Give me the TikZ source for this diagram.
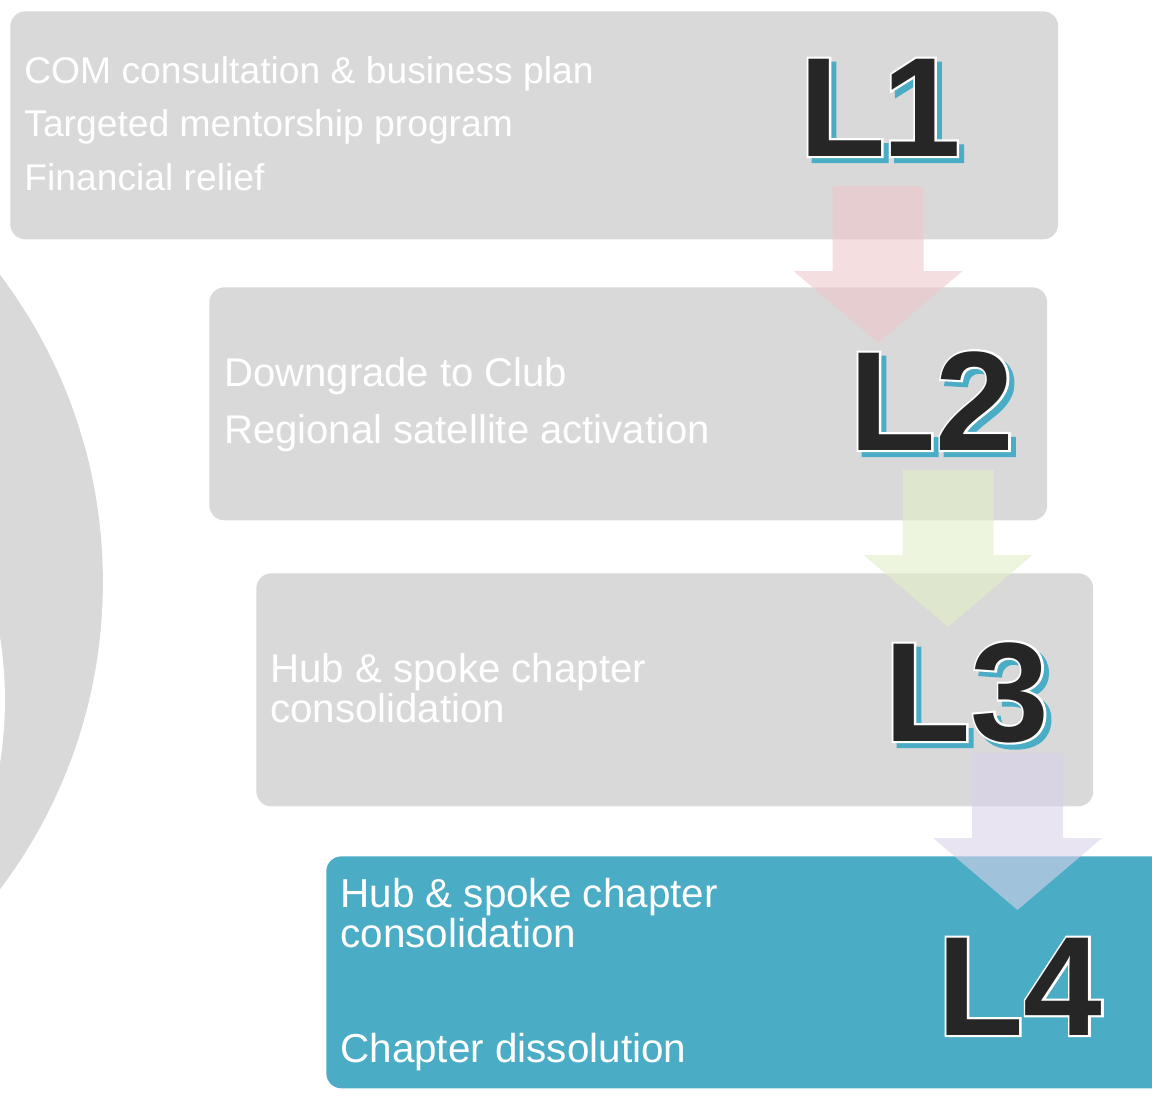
\documentclass[tikz,border=0pt]{standalone}
\usepackage{fontspec}
\setmainfont{Liberation Sans}
\newfontfamily\lvlfont{Liberation Sans Bold}
\newfontfamily\lvlrimfont{Liberation Sans Bold}[FakeBold=3]
\definecolor{boxgray}{HTML}{D9D9D9}
\definecolor{levelteal}{HTML}{4BACC6}
\definecolor{leveldark}{HTML}{262626}
\definecolor{arrowred}{RGB}{239,200,202}
\definecolor{arrowgreen}{RGB}{227,239,200}
\definecolor{arrowviolet}{RGB}{217,210,234}
\tikzset{
	levelbox/.style={fill=boxgray, rounded corners=0.3cm, inner sep=0pt, anchor=north west},
	itemtext/.style={text=white, align=left, inner sep=0pt, anchor=west},
	lvl/.style={font=\lvlfont\fontsize{80.5}{80.5}\selectfont, inner sep=0pt, anchor=base west, text=leveldark},
	lvlrim/.style={font=\lvlrimfont\fontsize{80.5}{80.5}\selectfont, inner sep=0pt, anchor=base west, text=white}
}
\newcommand{\levelarrow}[3]{%
	\fill[#3, opacity=0.6] (#1-45.5,#2) -- (#1+45.5,#2) -- (#1+45.5,#2+85) -- (#1+84.5,#2+85) -- (#1,#2+157) -- (#1-84.5,#2+85) -- (#1-45.5,#2+85) -- cycle;
}
\newcommand{\levellabel}[3]{%
	\node (#1s) [lvlrim, text=levelteal, shift={(5,5)}] at (#2) {#3};
	\node (#1r) [lvlrim] at (#2) {#3};
	\node (#1) [lvl] at (#2) {#3};
}
\begin{document}
\begin{tikzpicture}[x=0.02cm, y=-0.02cm]
	\useasboundingbox (0,0) rectangle (1152,1095);
	\fill[boxgray] (-407,582) circle (10.2cm);
	\fill[white] (-395,700) circle (8cm);
	\node (b1) [levelbox, minimum width=20.96cm, minimum height=4.56cm] at (10,11) {};
	\node (b2) [levelbox, minimum width=16.76cm, minimum height=4.66cm] at (209,287) {};
	\node (b3) [levelbox, minimum width=16.74cm, minimum height=4.66cm] at (256,573) {};
	\node (b4) [levelbox, fill=levelteal, minimum width=17cm, minimum height=4.64cm] at (326,856) {};
	\levelarrow{878}{186}{arrowred}
	\levelarrow{948}{470}{arrowgreen}
	\levelarrow{1017.5}{753}{arrowviolet}
	\node (t1) [itemtext, font=\fontsize{21.2}{30.3}\selectfont] at (24,123.5) {COM consultation \& business plan\\Targeted mentorship program\\Financial relief};
	\node (t2) [itemtext, font=\fontsize{22.8}{32.3}\selectfont] at (224,405) {Downgrade to Club\\Regional satellite activation};
	\node (t3) [itemtext, font=\fontsize{22.9}{23.2}\selectfont] at (270,688) {Hub \& spoke chapter\\consolidation};
	\node (t4) [itemtext, font=\fontsize{23}{23.2}\selectfont] at (340,913) {Hub \& spoke chapter\\consolidation};
	\node (t5) [itemtext, font=\fontsize{23}{23.2}\selectfont] at (340,1052.5) {Chapter dissolution};
	\levellabel{l1}{799,156}{L\kern-2pt1}
	\levellabel{l2}{849,450}{L2}
	\levellabel{l3}{884,741}{L3}
	\levellabel{l4}{937,1035}{L4}
\end{tikzpicture}
\end{document}
